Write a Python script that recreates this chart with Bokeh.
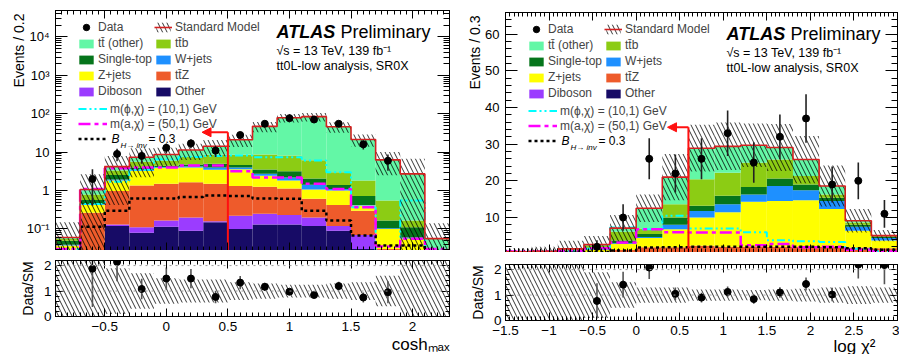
import numpy as np
from bokeh.plotting import figure
from bokeh.layouts import row, column
from bokeh.models import (LinearAxis, LogAxis, FixedTicker, CustomJSTickFormatter, Label, Title,
                          Legend, LegendItem, Arrow, NormalHead, Span, Range1d)
from bokeh.embed import file_html
from bokeh.resources import INLINE

FONT = "Liberation Sans"

# ---------------- left panel: cosh_max ----------------
edges_L = [-0.9, -0.7, -0.5, -0.3, -0.1, 0.1, 0.3, 0.5, 0.7, 0.9, 1.1, 1.3, 1.5, 1.7, 1.9, 2.1, 2.3]
other_L = [0.004, 0.01, 0.12, 0.08, 0.115, 0.09, 0.15, 0.10, 0.13, 0.13, 0.12, 0.09, 0.03, 0.005, 0.003, 0.002]
dib_L   = [0.002, 0.005, 0.01, 0.03, 0.05, 0.11, 0.01, 0.12, 0.12, 0.10, 0.08, 0.03, 0.04, 0.005, 0.003, 0.002]
ttz_L   = [0.006, 0.25, 0.85, 1.24, 1.35, 1.45, 1.35, 1.10, 1.00, 0.90, 0.41, 0.30, 0.23, 0.02, 0.01, 0.003]
zj_L    = [0.025, 0.16, 0.85, 1.95, 2.40, 2.35, 2.00, 2.30, 1.20, 0.70, 0.45, 0.58, 0.11, 0.07, 0.04, 0.003]
wj_L    = [0.002, 0.02, 0.10, 0.20, 0.20, 0.30, 0.50, 0.40, 0.30, 0.37, 0.35, 0.10, 0.01, 0.005, 0.004, 0.002]
st_L    = [0.010, 0.12, 0.60, 0.50, 0.30, 0.50, 1.00, 0.60, 0.80, 1.00, 0.65, 0.30, 0.30, 0.06, 0.05, 0.002]
ttb_L   = [0.006, 0.23, 0.80, 1.60, 1.60, 2.70, 3.50, 4.00, 5.10, 5.00, 4.10, 1.60, 1.10, 0.385, 0.055, 0.002]
tto_L   = [0.005, 0.27, 0.87, 1.80, 2.70, 3.90, 5.80, 12.4, 38.5, 70.8, 78.0, 43.0, 19.6, 5.75, 2.55, 0.04]
data_L  = [0, 2, 9, 8, 13, 17, 11, 28, 55, 77, 71, 55, 16, 6, 0, 0]
err_L   = [0, 1.6, 3.2, 3.0, 3.8, 4.3, 3.5, 5.5, 7.6, 9.0, 8.6, 7.6, 4.2, 2.7, 0, 0]
unc_L   = [1.5, 1.5, 0.9, 0.7, 0.5, 0.45, 0.45, 0.35, 0.3, 0.25, 0.25, 0.3, 0.35, 0.6, 1.5, 1.5]
cyan_L  = [0.03, 0.45, 1.7, 3.5, 6.5, 7.5, 8.0, 8.2, 7.4, 7.4, 6.1, 3.0, 0.37, 0.02, 0.55, 0.02]
mag_L   = [0.03, 1.1, 3.8, 4.0, 4.0, 4.5, 4.5, 3.2, 2.2, 2.2, 1.5, 1.1, 0.37, 0.035, 0.056, 0.03]
bh_L    = [0.02, 0.115, 0.3, 0.62, 0.62, 0.68, 0.74, 0.72, 0.62, 0.61, 0.3, 0.165, 0.068, 0.037, 0.037, 0.02]
cut_L   = {"x": 0.5, "y": 33.0, "tip": 0.29}

# ---------------- right panel: log chi2 ----------------
edges_R = [-1.5, -1.2, -0.9, -0.6, -0.3, 0.0, 0.3, 0.6, 0.9, 1.2, 1.5, 1.8, 2.1, 2.4, 2.7, 3.0]
other_R = [0.02, 0.02, 0.03, 0.05, 0.10, 0.15, 0.15, 0.15, 0.15, 0.15, 0.15, 0.15, 0.15, 0.15, 0.13]
dib_R   = [0.02, 0.02, 0.03, 0.05, 0.10, 0.15, 0.15, 0.15, 0.15, 0.15, 0.15, 0.15, 0.15, 0.15, 0.12]
ttz_R   = [0.08, 0.10, 0.15, 0.30, 0.90, 1.60, 1.60, 2.00, 1.70, 1.70, 1.70, 1.70, 1.70, 1.50, 1.35]
zj_R    = [0.25, 0.30, 0.50, 0.80, 1.70, 2.50, 4.90, 7.70, 9.40, 12.3, 12.5, 12.7, 10.3, 4.60, 2.10]
wj_R    = [0.02, 0.03, 0.05, 0.10, 0.20, 0.30, 1.20, 1.80, 2.20, 2.00, 4.10, 2.70, 2.20, 1.10, 0.70]
st_R    = [0.08, 0.10, 0.15, 0.30, 0.70, 0.80, 2.00, 1.40, 2.30, 2.00, 2.00, 1.60, 0.90, 0.50, 0.40]
ttb_R   = [0.10, 0.13, 0.30, 0.60, 2.40, 1.50, 3.60, 7.20, 6.30, 6.60, 5.20, 2.30, 0.90, 0.60, 0.15]
tto_R   = [0.10, 0.10, 0.24, 0.40, 1.00, 5.50, 7.40, 8.50, 7.20, 4.80, 3.30, 4.50, 2.30, 0.50, 0.10]
data_R  = [0, 0, 0, 2, 10, 26, 22, 26, 33, 25, 32, 37, 19, 20, 11]
err_R   = [0, 0, 0, 1.8, 3.6, 5.6, 5.2, 5.6, 6.2, 5.5, 6.1, 6.6, 4.9, 5.0, 3.8]
unc_R   = [1.5, 1.5, 1.5, 0.9, 0.5, 0.3, 0.3, 0.22, 0.22, 0.2, 0.22, 0.25, 0.3, 0.35, 0.3]
cyan_R  = [0.6, 0.7, 0.8, 1.5, 7.3, 6.8, 10.5, 7.0, 7.0, 6.0, 3.8, 3.5, 3.3, 1.5, 0.8]
mag_R   = [0.7, 0.7, 0.9, 1.6, 3.2, 6.8, 6.0, 5.9, 5.9, 2.4, 2.8, 1.9, 2.0, 1.2, 0.7]
bh_R    = [0.3, 0.3, 0.4, 0.6, 1.0, 1.8, 1.9, 2.0, 2.0, 2.0, 2.0, 2.0, 1.9, 1.6, 1.2]
cut_R   = {"x": 0.6, "y": 34.6, "tip": 0.36}

# stack order bottom -> top
bkg_names  = ["Other", "Diboson", "tt\u0304Z", "Z+jets", "W+jets", "Single-top", "tt\u0304b", "tt\u0304 (other)"]
bkg_colors = ["#170b66", "#9b3cff", "#ee5b2b", "#ffff00", "#1e90ff", "#05751b", "#8ccc14", "#63f7a6"]
leg_col1 = ["tt\u0304 (other)", "Single-top", "Z+jets", "Diboson"]
leg_col2 = ["tt\u0304b", "W+jets", "tt\u0304Z", "Other"]
sig_labels = ["m(\u03d5,\u03c7) = (10,1) GeV", "m(a,\u03c7) = (50,1) GeV", ""]
sig_styles = [("#00ffff", "8 3 2 3 2 3", 2.0), ("#ff00ff", "12 4 4 4", 2.5), ("black", "3 3", 2.5)]

xticks_L = [-0.5, 0, 0.5, 1, 1.5, 2]
xticks_R = [-1.5, -1, -0.5, 0, 0.5, 1, 1.5, 2, 2.5, 3]
yticks_L = [0.1, 1, 10, 100, 1000, 10000]
yticks_R = [10, 20, 30, 40, 50, 60]
rticks = [0, 1, 2]

RED = "#d42020"

num_fmt = CustomJSTickFormatter(code="""
let s = (Math.abs(tick) < 1e-9) ? "0" : tick.toFixed(2).replace(/0+$/, "").replace(/\\.$/, "");
return s.replace("-", "\\u2212");
""")
log_fmt = CustomJSTickFormatter(code="""
const e = Math.round(Math.log10(tick));
if (e == 0) return "1";
if (e == 1) return "10";
const sup = {"-": "\\u207b", "0": "\\u2070", "1": "\\u00b9", "2": "\\u00b2", "3": "\\u00b3", "4": "\\u2074", "5": "\\u2075"};
return "10" + String(e).split("").map(c => sup[c]).join("");
""")


def style_axis(ax, ticks, minor, tin, tmin, fmt=None, fsize="13px", standoff=5):
    ax.ticker = FixedTicker(ticks=list(ticks), minor_ticks=list(minor))
    ax.major_tick_in = tin
    ax.major_tick_out = 0
    ax.minor_tick_in = tmin
    ax.minor_tick_out = 0
    ax.axis_line_color = "black"
    ax.major_tick_line_color = "black"
    ax.minor_tick_line_color = "black"
    if fmt is None:
        ax.major_label_text_font_size = "1px"
        ax.major_label_text_color = None
        ax.major_label_standoff = 0
    else:
        ax.formatter = fmt
        ax.major_label_text_font = FONT
        ax.major_label_text_font_size = fsize
        ax.major_label_text_color = "black"
        ax.major_label_standoff = standoff


def side_title(fig, text, place, size, align, offset, standoff):
    t = Title(text=text, align=align, offset=offset, text_font=FONT, text_font_size=size,
              text_font_style="normal", text_color="black")
    try:
        t.standoff = standoff
    except Exception:
        t.standoff = 0
    fig.add_layout(t, place)


def steps(edges, vals):
    xs = np.repeat(np.asarray(edges, float), 2)[1:-1]
    ys = np.repeat(np.asarray(vals, float), 2)
    return xs, ys


def build(edges, comps, data, err, unc, sigs, log, yr, xticks, yticks, ylabel, ystand,
          width, top_b, right_b, cut, xlabel, xoff, xstand):
    edges = np.asarray(edges, float)
    lo, hi = edges[:-1], edges[1:]
    cen = 0.5 * (lo + hi)
    xr = (edges[0], edges[-1])
    n = len(lo)
    frame_h = 240
    p = figure(width=width, height=frame_h + top_b, x_range=Range1d(*xr), y_range=Range1d(*yr),
               y_axis_type="log" if log else "linear", output_backend="svg", toolbar_location=None,
               min_border_left=55, min_border_right=right_b, min_border_top=top_b, min_border_bottom=0)
    p.grid.visible = False
    p.outline_line_color = "black"
    p.outline_line_alpha = 1
    p.background_fill_color = "white"
    p.border_fill_color = "white"

    xminor = np.round(np.arange(xr[0], xr[1] + 1e-9, 0.05), 3)
    if log:
        yminor = [m * 10.0 ** e for e in range(-2, 5) for m in range(2, 10)]
        yfmt = log_fmt
    else:
        yminor = list(range(0, 67, 2))
        yfmt = num_fmt
    style_axis(p.xaxis[0], xticks, xminor, 8, 4)
    style_axis(p.yaxis[0], yticks, yminor, 12, 6, yfmt, "13px", 6)
    side_title(p, ylabel, "left", "14px", "right", 3, ystand)
    top_ax = LinearAxis()
    style_axis(top_ax, xticks, xminor, 8, 4)
    p.add_layout(top_ax, "above")
    right_ax = LogAxis() if log else LinearAxis()
    style_axis(right_ax, yticks, yminor, 12, 6)
    p.add_layout(right_ax, "right")

    # stacked backgrounds
    base = np.full(n, 1e-4 if log else 0.0)
    rend = {}
    for name, vals, col in zip(bkg_names, comps, bkg_colors):
        top = base + np.asarray(vals, float)
        rend[name] = p.quad(left=lo, right=hi, bottom=base, top=top, fill_color=col, line_color=None)
        base = top
    total = base

    # signals
    sig_r = []
    for vals, (col, dash, lw) in zip(sigs, sig_styles):
        xs, ys = steps(edges, vals)
        sig_r.append(p.line(xs, ys, line_color=col, line_dash=dash, line_width=lw))

    # SM uncertainty hatch and SM outline
    unc = np.asarray(unc, float)
    blo = np.maximum(total * (1 - unc), yr[0] * 0.5 if log else 0.0)
    hatch_r = p.quad(left=lo, right=hi, bottom=blo, top=total * (1 + unc), fill_color=None,
                     line_color=None, hatch_pattern="\\", hatch_color="black", hatch_alpha=1.0,
                     hatch_weight=0.8, hatch_scale=9)
    xs, ys = steps(edges, total)
    xs = np.concatenate([[edges[0]], xs, [edges[-1]]])
    ys = np.concatenate([[yr[0]], ys, [yr[0]]])
    sm_line = p.line(xs, ys, line_color=RED, line_width=1.6)

    # cut arrow
    p.segment(x0=[cut["x"]], y0=[yr[0]], x1=[cut["x"]], y1=[cut["y"]], line_color="#ff1010", line_width=2)
    p.add_layout(Arrow(end=NormalHead(size=9, fill_color="#ff1010", line_color="#ff1010"),
                       x_start=cut["x"], y_start=cut["y"], x_end=cut["tip"], y_end=cut["y"],
                       line_color="#ff1010", line_width=2))

    # data
    data = np.asarray(data, float)
    err = np.asarray(err, float)
    m = data > 0
    p.segment(x0=cen[m], y0=np.maximum(data[m] - err[m], yr[0]), x1=cen[m], y1=data[m] + err[m],
              line_color="#222222", line_width=1.6)
    data_r = p.scatter(cen[m], data[m], size=7, color="black")

    # legends
    common = dict(background_fill_alpha=0, border_line_alpha=0, padding=0, margin=0, spacing=0,
                  label_text_font=FONT, label_text_font_size="12px", label_standoff=3)
    p.add_layout(Legend(items=[LegendItem(label="Data", renderers=[data_r])], location=(22, 215),
                        glyph_width=18, glyph_height=16, label_height=16, **common))
    p.add_layout(Legend(items=[LegendItem(label="Standard Model", renderers=[hatch_r, sm_line])],
                        location=(99, 215), glyph_width=18, glyph_height=12, label_height=16, **common))
    p.add_layout(Legend(items=[LegendItem(label=k, renderers=[rend[k]]) for k in leg_col1],
                        location=(22, 151), glyph_width=18, glyph_height=11, label_height=16, **common))
    p.add_layout(Legend(items=[LegendItem(label=k, renderers=[rend[k]]) for k in leg_col2],
                        location=(99, 151), glyph_width=18, glyph_height=11, label_height=16, **common))
    p.add_layout(Legend(items=[LegendItem(label=(k if k else " "), renderers=[r]) for k, r in zip(sig_labels, sig_r)],
                        location=(23, 104), glyph_width=29, glyph_height=11, label_height=15, **common))
    lab = dict(x_units="screen", y_units="screen", text_font=FONT, text_color="black", text_baseline="bottom")
    p.add_layout(Label(x=56, y=104.5, text="B", text_font_size="12px", text_font_style="italic", **lab))
    p.add_layout(Label(x=65, y=101, text="H\u2192 inv", text_font_size="8px", text_font_style="italic", **lab))
    p.add_layout(Label(x=93, y=104.5, text="= 0.3", text_font_size="12px", **lab))

    # ATLAS label
    p.add_layout(Label(x=221, y=209, text="ATLAS", text_font_size="18px", text_font_style="bold italic", **lab))
    p.add_layout(Label(x=285, y=209, text="Preliminary", text_font_size="18px", **lab))
    p.add_layout(Label(x=221, y=193, text="\u221as = 13 TeV, 139 fb\u207b\u00b9", text_font_size="12.5px", **lab))
    p.add_layout(Label(x=221, y=178, text="tt0L-low analysis, SR0X", text_font_size="12.5px", **lab))

    # ---- ratio panel ----
    r = figure(width=width, height=104, x_range=p.x_range,
               y_range=Range1d(0, 2.2), output_backend="svg", toolbar_location=None,
               min_border_left=55, min_border_right=right_b, min_border_top=top_b,
               min_border_bottom=48 - top_b)
    r.grid.visible = False
    r.outline_line_color = "black"
    r.background_fill_color = "white"
    r.border_fill_color = "white"
    rminor = np.round(np.arange(0, 2.21, 0.2), 2)
    style_axis(r.xaxis[0], xticks, xminor, 8, 4, num_fmt, "13.5px", 5)
    style_axis(r.yaxis[0], rticks, rminor, 8, 4, num_fmt, "13.5px", 4)
    side_title(r, xlabel, "below", "17px", "right", xoff, xstand)
    side_title(r, "Data/SM", "left", "14px", "center", 0, 10)
    ta = LinearAxis()
    style_axis(ta, xticks, xminor, 8, 4)
    r.add_layout(ta, "above")
    ra = LinearAxis()
    style_axis(ra, rticks, rminor, 8, 4)
    r.add_layout(ra, "right")
    r.add_layout(Span(location=1, dimension="width", line_color="#999999", line_dash="dotted", line_width=1))
    r.add_layout(Span(location=2, dimension="width", line_color="#999999", line_dash="dotted", line_width=1))
    r.quad(left=lo, right=hi, bottom=np.maximum(1 - unc, 0), top=1 + unc, fill_color=None, line_color=None,
           hatch_pattern="\\", hatch_color="black", hatch_alpha=1.0, hatch_weight=0.8, hatch_scale=9)
    ratio = data / total
    rerr = err / total
    r.segment(x0=cen[m], y0=np.maximum(ratio[m] - rerr[m], 0), x1=cen[m], y1=ratio[m] + rerr[m],
              line_color="#555555", line_width=1.6)
    r.scatter(cen[m], ratio[m], size=7, color="black")
    return column(p, r)


left = build(edges_L, [other_L, dib_L, ttz_L, zj_L, wj_L, st_L, ttb_L, tto_L], data_L, err_L, unc_L,
             [cyan_L, mag_L, bh_L], True, (0.0275, 4.9e4), xticks_L, yticks_L, "Events / 0.2", -7,
             450, 10, 1, cut_L, "cosh\u2098\u2090\u2093", 0, -2)
right = build(edges_R, [other_R, dib_R, ttz_R, zj_R, wj_R, st_R, ttb_R, tto_R], data_R, err_R, unc_R,
              [cyan_R, mag_R, bh_R], False, (0.45, 65.9), xticks_R, yticks_R, "Events / 0.3", 0,
              449, 12, 2, cut_R, "log \u03c7\u00b2", 22, -6)

layout = row(left, right)
open("out.html", "w").write(file_html(layout, INLINE))
